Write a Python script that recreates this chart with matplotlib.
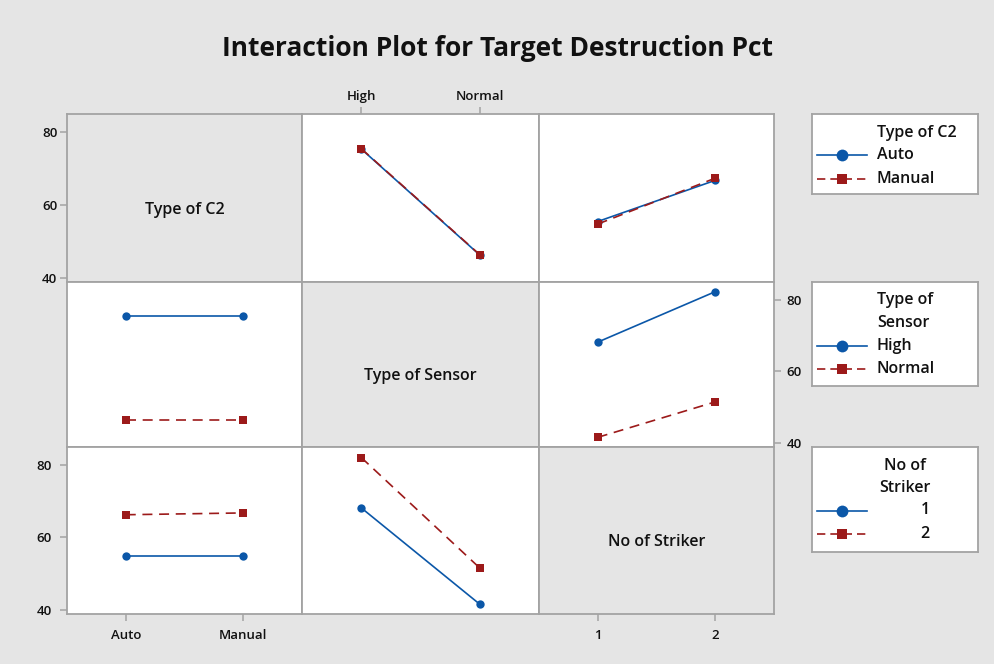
import matplotlib
matplotlib.use("Agg")
import matplotlib.pyplot as plt

plt.rcParams['font.family'] = ['Open Sans', 'DejaVu Sans']
plt.rcParams['font.weight'] = 'semibold'

# --- factors and their levels ---
factors = ["Type of C2", "Type of Sensor", "No of Striker"]
c2_levels = ["Auto", "Manual"]
sensor_levels = ["High", "Normal"]
striker_levels = ["1", "2"]

# --- mean Target Destruction Pct for each pair of factors ---
# trace factor = row, x-axis factor = column
c2_auto_by_sensor = [75.3, 46.2]
c2_manual_by_sensor = [75.4, 46.3]
c2_auto_by_striker = [55.4, 66.7]
c2_manual_by_striker = [54.7, 67.3]

sensor_high_by_c2 = [75.3, 75.3]
sensor_normal_by_c2 = [46.3, 46.3]
sensor_high_by_striker = [68.1, 82.2]
sensor_normal_by_striker = [41.5, 51.4]

striker1_by_c2 = [54.8, 54.8]
striker2_by_c2 = [66.2, 66.7]
striker1_by_sensor = [68.1, 41.5]
striker2_by_sensor = [82.0, 51.5]

y_ticks = [40, 60, 80]

levels = [c2_levels, sensor_levels, striker_levels]
panel_data = {
    (0, 1): (c2_auto_by_sensor, c2_manual_by_sensor),
    (0, 2): (c2_auto_by_striker, c2_manual_by_striker),
    (1, 0): (sensor_high_by_c2, sensor_normal_by_c2),
    (1, 2): (sensor_high_by_striker, sensor_normal_by_striker),
    (2, 0): (striker1_by_c2, striker2_by_c2),
    (2, 1): (striker1_by_sensor, striker2_by_sensor),
}

BG = '#e5e5e5'
EDGE = '#a3a3a3'
BLUE = '#0b57a8'
RED = '#9c1a1a'
TXT = '#111111'

W, H = 995, 664
fig = plt.figure(figsize=(W / 100, H / 100), dpi=100, facecolor=BG)


def px_axes(x0, y0, x1, y1, **kw):
    # pixel box (top-left origin) -> figure axes
    return fig.add_axes([x0 / W, 1 - y1 / H, (x1 - x0) / W, (y1 - y0) / H], **kw)


col_edges = [67, 302, 539, 774]
row_edges = [114, 282, 447, 614]
ylim = (38.8, 84.9)
xlim = (0.5, 2.5)

for r in range(3):
    for c in range(3):
        ax = px_axes(col_edges[c], row_edges[r], col_edges[c + 1], row_edges[r + 1])
        ax.set_facecolor(BG if r == c else 'white')
        ax.set_xlim(*xlim)
        ax.set_ylim(*ylim)
        for s in ax.spines.values():
            s.set_color(EDGE)
            s.set_linewidth(1.3)
        ax.set_xticks([1, 2], labels=levels[c])
        ax.set_yticks(y_ticks)
        ax.tick_params(which='both', length=5, width=1.1, color=EDGE,
                       labelsize=9.5, labelcolor=TXT,
                       left=False, bottom=False, labelleft=False, labelbottom=False)

        # axis labelling on the outer panels only
        if c == 0 and r in (0, 2):
            ax.tick_params(left=True, labelleft=True, pad=2)
        if r == 1 and c == 2:
            ax.tick_params(right=True, labelright=True, pad=4)
        if r == 0 and c == 1:
            ax.tick_params(top=True, labeltop=True, pad=3)
        if r == 2 and c in (0, 2):
            ax.tick_params(bottom=True, labelbottom=True, pad=6)

        if r == c:
            ax.text(0.5, 0.43, factors[r], transform=ax.transAxes,
                    ha='center', va='center', fontsize=11.5, color=TXT)
            continue

        first, second = panel_data[(r, c)]
        ax.plot([1, 2], first, color=BLUE, lw=1.2, marker='o', ms=6,
                markeredgewidth=0, zorder=3)
        ax.plot([1, 2], second, color=RED, lw=1.2, marker='s', ms=6,
                markeredgewidth=0, dashes=(6, 4), zorder=4)

# --- legends on the right, one per row ---
legend_specs = [
    (114, 194, ["Type of C2"], c2_levels, 'left', 'left'),
    (282, 386, ["Type of", "Sensor"], sensor_levels, 'left', 'left'),
    (447, 552, ["No of", "Striker"], striker_levels, 'center', 'center'),
]
lx0, lx1 = 812, 978
for top, bottom, title_lines, labels, title_ha, label_ha in legend_specs:
    lax = px_axes(lx0, top, lx1, bottom)
    lax.set_xlim(0, lx1 - lx0)
    lax.set_ylim(bottom - top, 0)
    lax.set_xticks([])
    lax.set_yticks([])
    for s in lax.spines.values():
        s.set_color(EDGE)
        s.set_linewidth(1.3)
    y = 18.5
    for line in title_lines:
        tx = 65 if title_ha == 'left' else 93
        lax.text(tx, y, line, ha=title_ha, va='center', fontsize=11.5, color=TXT)
        y += 22.5
    styles = [dict(color=BLUE, marker='o', ms=8.5, lw=1.2),
              dict(color=RED, marker='s', ms=7.5, lw=1.2, dashes=(5, 3))]
    for label, st in zip(labels, styles):
        lax.plot([5, 55], [y, y], markevery=[], **st)
        lax.plot([30], [y], color=st['color'], marker=st['marker'],
                 ms=st['ms'], markeredgewidth=0, ls='none')
        tx = 65 if label_ha == 'left' else 113
        lax.text(tx, y, label, ha=label_ha, va='center', fontsize=11.5, color=TXT)
        y += 23.5

fig.text(0.5, 1 - 48 / H, "Interaction Plot for Target Destruction Pct",
         ha='center', va='center', fontsize=19, fontweight='bold', color=TXT)

fig.savefig("out.png", dpi=100, facecolor=BG)
